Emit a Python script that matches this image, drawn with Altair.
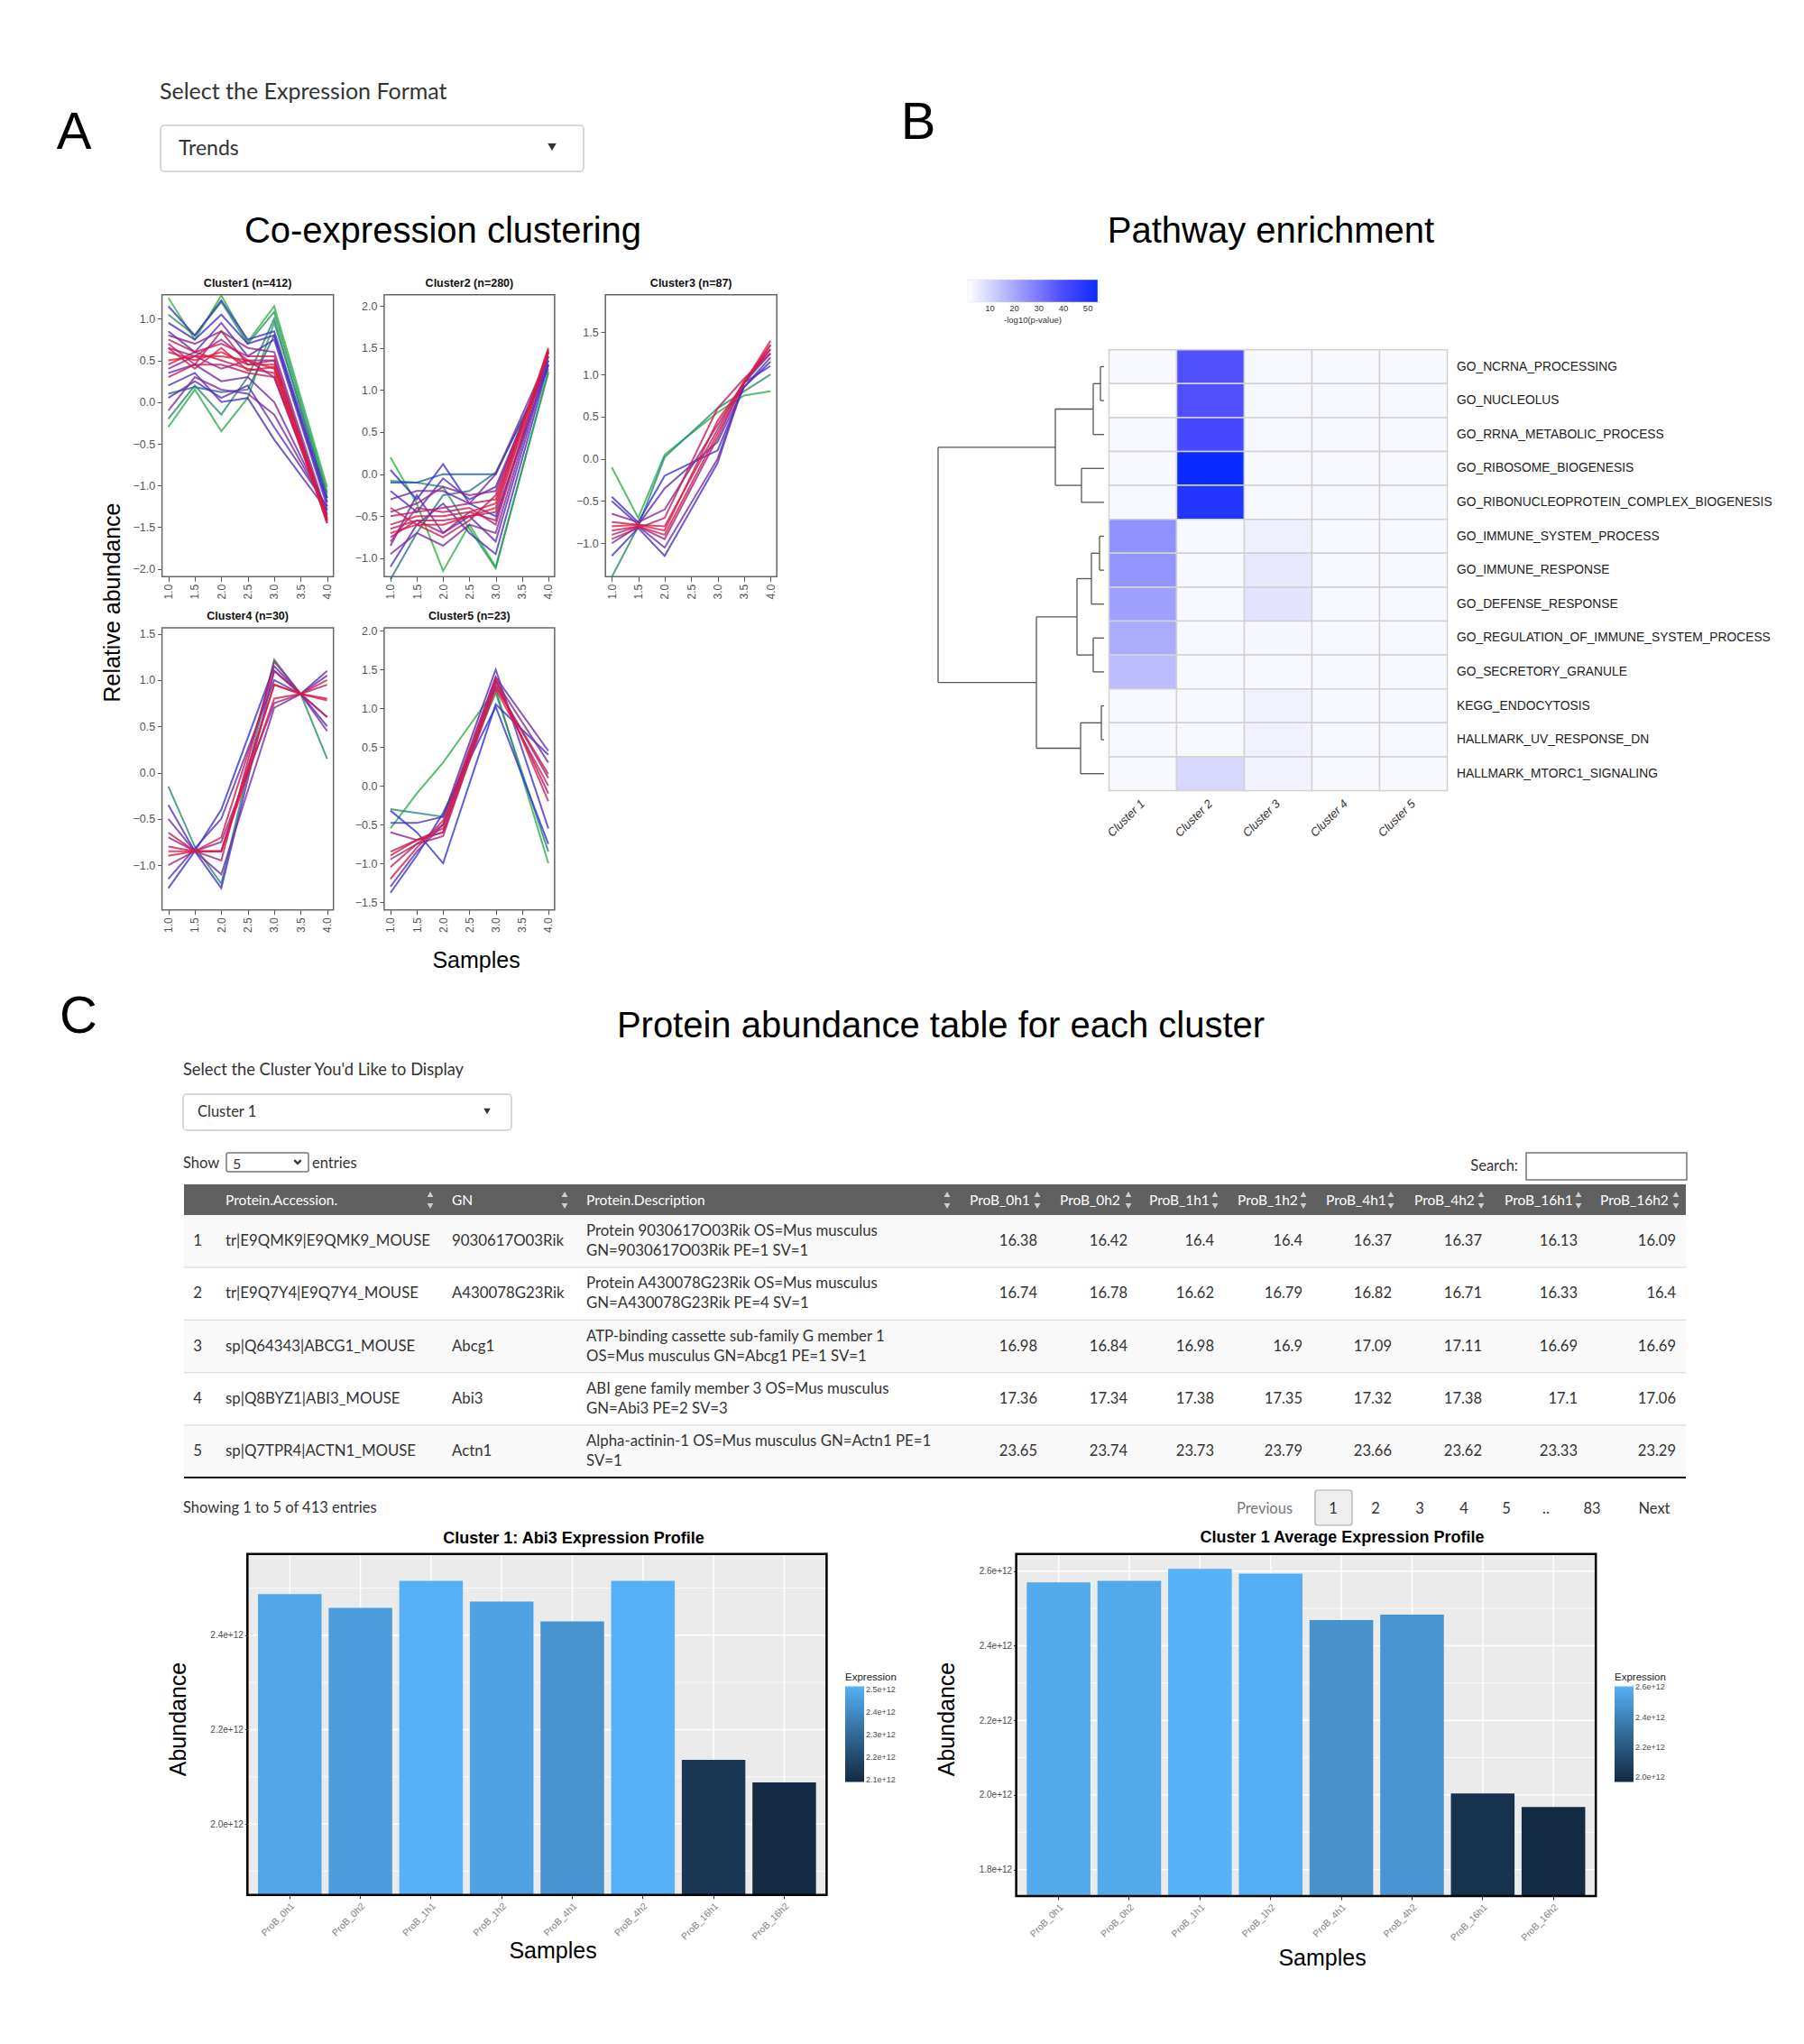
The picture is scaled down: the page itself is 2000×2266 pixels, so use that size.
import altair as alt
import pandas as pd

M = 8                 # page margin (canvas origin is at page (8, 8))
W, H = 1984, 2250     # canvas size
PF = "Liberation Sans"
UF = "Lato"

# ============================ DATA ============================
# ---- Panel A: co-expression clusters (trend lines) ----
cluster_titles = ["Cluster1 (n=412)", "Cluster2 (n=280)", "Cluster3 (n=87)",
                  "Cluster4 (n=30)", "Cluster5 (n=23)"]
cluster_xpos = [
    [1.0, 1.5, 2.0, 2.5, 3.0, 4.0],
    [1.0, 1.5, 2.0, 2.5, 3.0, 4.0],
    [1.0, 1.5, 2.0, 3.0, 3.5, 4.0],
    [1.0, 1.5, 2.0, 3.0, 3.5, 4.0],
    [1.0, 1.5, 2.0, 3.0, 4.0],
]
# each row: membership, then relative abundance at the x positions above
cluster1_lines = [
    [0.12, 1.25, 0.75, 1.28, 0.72, 1.15, -1.02],
    [0.18, 1.05, 0.80, 1.20, 0.70, 1.08, -1.08],
    [0.14, -0.30, 0.15, -0.35, 0.05, 0.95, -1.10],
    [0.20, -0.20, 0.20, -0.15, 0.30, 1.00, -1.15],
    [0.26, 0.10, 0.18, 0.12, 0.15, 0.80, -1.20],
    [0.42, 1.15, 0.80, 1.22, 0.75, 0.85, -1.15],
    [0.45, 0.95, 0.75, 1.05, 0.70, 0.80, -1.20],
    [0.47, 0.20, 0.35, 0.00, 0.05, -0.45, -1.30],
    [0.50, 0.05, 0.25, 0.05, 0.20, -0.30, -1.25],
    [0.51, 0.85, 0.60, 0.95, 0.55, 0.75, -1.25],
    [0.55, 0.35, 0.45, 0.25, 0.30, 0.00, -1.30],
    [0.60, -0.10, 0.30, 0.15, 0.10, -0.15, -1.28],
    [0.64, 0.80, 0.70, 0.85, 0.65, 0.60, -1.35],
    [0.66, 0.40, 0.55, 0.40, 0.50, 0.30, -1.35],
    [0.70, 0.65, 0.55, 0.75, 0.50, 0.50, -1.38],
    [0.74, 0.70, 0.45, 0.85, 0.45, 0.50, -1.40],
    [0.78, 0.30, 0.45, 0.45, 0.35, 0.30, -1.40],
    [0.80, 0.75, 0.60, 0.70, 0.55, 0.55, -1.42],
    [0.84, 0.45, 0.60, 0.50, 0.40, 0.35, -1.42],
    [0.86, 0.60, 0.50, 0.60, 0.45, 0.45, -1.45],
    [0.88, 0.65, 0.40, 0.65, 0.38, 0.42, -1.44],
    [0.90, 0.50, 0.55, 0.55, 0.50, 0.40, -1.45],
]
cluster2_lines = [
    [0.12, 0.20, -0.35, -1.15, -0.60, -1.10, 1.20],
    [0.18, -0.08, -0.10, -0.15, -0.65, -1.12, 1.22],
    [0.24, -1.25, -0.70, -0.25, -0.20, 0.02, 1.25],
    [0.30, -0.10, -0.10, 0.00, 0.00, 0.00, 1.30],
    [0.42, 0.05, -0.30, 0.12, -0.35, -0.50, 1.30],
    [0.45, -1.10, -0.60, -0.35, -0.70, -0.95, 1.30],
    [0.48, -0.20, -0.45, -0.05, -0.30, -0.15, 1.35],
    [0.52, -0.85, -0.25, -0.70, -0.50, -0.80, 1.35],
    [0.56, -0.30, -0.20, -0.20, -0.35, 0.00, 1.40],
    [0.60, -0.95, -0.70, -0.85, -0.60, -0.70, 1.40],
    [0.64, -0.45, -0.35, -0.15, -0.25, -0.20, 1.40],
    [0.70, -0.75, -0.55, -0.70, -0.45, -0.55, 1.45],
    [0.74, -0.50, -0.45, -0.40, -0.35, -0.30, 1.45],
    [0.78, -0.80, -0.40, -0.45, -0.40, -0.60, 1.45],
    [0.80, -0.65, -0.55, -0.55, -0.50, -0.45, 1.47],
    [0.84, -0.40, -0.60, -0.75, -0.55, -0.25, 1.45],
    [0.86, -0.60, -0.50, -0.50, -0.45, -0.35, 1.48],
    [0.90, -0.70, -0.60, -0.60, -0.50, -0.40, 1.50],
]
cluster3_lines = [
    [0.14, -0.10, -0.70, 0.05, 0.55, 0.75, 0.80],
    [0.20, -1.40, -0.80, 0.02, 0.60, 0.80, 1.00],
    [0.40, -0.45, -0.75, -0.20, 0.10, 0.85, 1.15],
    [0.45, -1.15, -0.82, -1.15, -0.05, 0.90, 1.10],
    [0.50, -0.50, -0.78, -0.35, 0.20, 0.85, 1.20],
    [0.58, -1.00, -0.80, -1.05, 0.00, 0.90, 1.25],
    [0.64, -0.65, -0.75, -0.60, 0.40, 0.90, 1.30],
    [0.72, -0.90, -0.80, -0.95, 0.25, 0.90, 1.35],
    [0.78, -0.95, -0.82, -0.70, 0.60, 0.95, 1.25],
    [0.80, -0.75, -0.78, -0.80, 0.35, 0.92, 1.30],
    [0.85, -0.85, -0.80, -0.90, 0.30, 0.90, 1.40],
    [0.90, -0.80, -0.78, -0.85, 0.45, 0.90, 1.35],
]
cluster4_lines = [
    [0.20, -0.15, -0.80, -1.20, 1.22, 0.85, 0.15],
    [0.40, -1.25, -0.85, -0.40, 1.15, 0.85, 0.50],
    [0.45, -0.35, -0.85, -1.25, 1.10, 0.85, 0.60],
    [0.50, -1.15, -0.82, -0.50, 1.00, 0.85, 1.10],
    [0.58, -0.50, -0.85, -1.10, 0.70, 0.85, 1.05],
    [0.64, -0.70, -0.85, -0.75, 0.75, 0.85, 0.45],
    [0.72, -1.00, -0.85, -0.95, 1.20, 0.85, 0.95],
    [0.80, -0.80, -0.85, -0.85, 0.95, 0.85, 0.80],
    [0.84, -0.65, -0.85, -0.70, 1.10, 0.85, 0.60],
    [0.86, -0.90, -0.85, -0.85, 0.80, 0.85, 1.00],
    [0.90, -0.85, -0.85, -0.85, 0.95, 0.85, 0.78],
]
cluster5_lines = [
    [0.14, -0.55, -0.10, 0.30, 1.25, -1.00],
    [0.20, -0.30, -0.35, -0.40, 1.20, -0.85],
    [0.38, -1.38, -0.90, -0.35, 1.02, -0.75],
    [0.40, -0.32, -0.60, -1.00, 1.05, 0.40],
    [0.45, -0.48, -0.48, -0.40, 1.50, -0.55],
    [0.55, -1.30, -0.85, -0.50, 1.40, 0.45],
    [0.60, -0.60, -0.70, -0.60, 1.35, 0.30],
    [0.70, -0.95, -0.75, -0.65, 1.30, 0.10],
    [0.75, -0.85, -0.70, -0.55, 1.35, -0.10],
    [0.80, -1.05, -0.75, -0.50, 1.28, 0.15],
    [0.85, -1.20, -0.80, -0.45, 1.40, -0.20],
    [0.90, -0.90, -0.70, -0.60, 1.25, 0.00],
]
cluster_lines = [cluster1_lines, cluster2_lines, cluster3_lines, cluster4_lines, cluster5_lines]
cluster_yticks = [
    [-2.0, -1.5, -1.0, -0.5, 0.0, 0.5, 1.0],
    [-1.0, -0.5, 0.0, 0.5, 1.0, 1.5, 2.0],
    [-1.0, -0.5, 0.0, 0.5, 1.0, 1.5],
    [-1.0, -0.5, 0.0, 0.5, 1.0, 1.5],
    [-1.5, -1.0, -0.5, 0.0, 0.5, 1.0, 1.5, 2.0],
]
cluster_ylims = [(-2.093, 1.288), (-1.218, 2.132), (-1.396, 1.945), (-1.484, 1.565), (-1.601, 2.038)]
cluster_xticks = [1.0, 1.5, 2.0, 2.5, 3.0, 3.5, 4.0]
cluster_xlim = (0.88, 4.12)

# ---- Panel B: pathway enrichment (-log10 p-value) ----
pathways = ["GO_NCRNA_PROCESSING", "GO_NUCLEOLUS", "GO_RRNA_METABOLIC_PROCESS",
            "GO_RIBOSOME_BIOGENESIS", "GO_RIBONUCLEOPROTEIN_COMPLEX_BIOGENESIS",
            "GO_IMMUNE_SYSTEM_PROCESS", "GO_IMMUNE_RESPONSE", "GO_DEFENSE_RESPONSE",
            "GO_REGULATION_OF_IMMUNE_SYSTEM_PROCESS", "GO_SECRETORY_GRANULE",
            "KEGG_ENDOCYTOSIS", "HALLMARK_UV_RESPONSE_DN", "HALLMARK_MTORC1_SIGNALING"]
heat_clusters = ["Cluster 1", "Cluster 2", "Cluster 3", "Cluster 4", "Cluster 5"]
enrichment = [
    [2.5, 39.0, 2.5, 2.5, 2.5],
    [1.0, 39.0, 2.5, 2.5, 2.5],
    [2.5, 41.0, 2.5, 2.5, 2.5],
    [2.5, 54.0, 2.5, 2.5, 2.5],
    [2.5, 49.0, 2.5, 2.5, 2.5],
    [25.0, 2.5, 4.5, 2.5, 2.5],
    [24.0, 2.5, 6.0, 2.5, 2.5],
    [21.5, 2.5, 7.0, 2.5, 2.5],
    [19.0, 2.5, 3.0, 2.5, 2.5],
    [15.5, 2.5, 2.5, 2.5, 2.5],
    [2.5, 2.5, 4.0, 2.5, 2.5],
    [2.5, 2.5, 4.0, 2.5, 2.5],
    [2.5, 9.5, 3.5, 2.5, 2.5],
]
# (child a, child b, merge height); leaves are row indices, new nodes numbered from 13
dendro_merges = [(0, 1, 0.4), (13, 2, 1.2), (3, 4, 2.5), (14, 15, 5.4),
                 (5, 6, 0.5), (17, 7, 1.4), (8, 9, 1.2), (18, 19, 3.0),
                 (10, 11, 0.3), (21, 12, 2.6), (20, 22, 7.5), (16, 23, 18.4)]
heat_legend_ticks = [10, 20, 30, 40, 50]

# ---- Panel C: table ----
accessions = ["tr|E9QMK9|E9QMK9_MOUSE", "tr|E9Q7Y4|E9Q7Y4_MOUSE", "sp|Q64343|ABCG1_MOUSE",
              "sp|Q8BYZ1|ABI3_MOUSE", "sp|Q7TPR4|ACTN1_MOUSE"]
gene_names = ["9030617O03Rik", "A430078G23Rik", "Abcg1", "Abi3", "Actn1"]
descriptions = [
    ("Protein 9030617O03Rik OS=Mus musculus", "GN=9030617O03Rik PE=1 SV=1"),
    ("Protein A430078G23Rik OS=Mus musculus", "GN=A430078G23Rik PE=4 SV=1"),
    ("ATP-binding cassette sub-family G member 1", "OS=Mus musculus GN=Abcg1 PE=1 SV=1"),
    ("ABI gene family member 3 OS=Mus musculus", "GN=Abi3 PE=2 SV=3"),
    ("Alpha-actinin-1 OS=Mus musculus GN=Actn1 PE=1", "SV=1"),
]
samples = ["ProB_0h1", "ProB_0h2", "ProB_1h1", "ProB_1h2", "ProB_4h1", "ProB_4h2", "ProB_16h1", "ProB_16h2"]
table_values = [
    [16.38, 16.42, 16.4, 16.4, 16.37, 16.37, 16.13, 16.09],
    [16.74, 16.78, 16.62, 16.79, 16.82, 16.71, 16.33, 16.4],
    [16.98, 16.84, 16.98, 16.9, 17.09, 17.11, 16.69, 16.69],
    [17.36, 17.34, 17.38, 17.35, 17.32, 17.38, 17.1, 17.06],
    [23.65, 23.74, 23.73, 23.79, 23.66, 23.62, 23.33, 23.29],
]
total_entries = 413
pages = ["1", "2", "3", "4", "5", "..", "83"]

# ---- Panel C: bar charts ----
abi3_expr = [2.487e12, 2.458e12, 2.515e12, 2.471e12, 2.429e12, 2.515e12, 2.136e12, 2.088e12]
avg_expr = [2.570e12, 2.574e12, 2.606e12, 2.593e12, 2.469e12, 2.483e12, 2.004e12, 1.968e12]
abi3_major = [2.0e12, 2.2e12, 2.4e12]
abi3_minor = [1.9e12, 2.1e12, 2.3e12, 2.5e12]
avg_major = [1.8e12, 2.0e12, 2.2e12, 2.4e12, 2.6e12]
avg_minor = [1.9e12, 2.1e12, 2.3e12, 2.5e12]
abi3_legend = [2.1e12, 2.2e12, 2.3e12, 2.4e12, 2.5e12]
avg_legend = [2.0e12, 2.2e12, 2.4e12, 2.6e12]
abi3_ylim = [1.850e12, 2.572e12]
avg_ylim = [1.729e12, 2.646e12]


# ============================ HELPERS ============================
def T(items, size, color="#333333", font=PF, weight="normal", align="left",
      baseline="middle", angle=0, style="normal"):
    df = pd.DataFrame(items, columns=["x", "y", "t"])
    df["x"] = df["x"] - M
    df["y"] = df["y"] - M
    return alt.Chart(df).mark_text(
        fontSize=size, color=color, font=font, fontWeight=weight, align=align,
        baseline=baseline, angle=angle, fontStyle=style
    ).encode(
        x=alt.X("x:Q", scale=None, axis=None),
        y=alt.Y("y:Q", scale=None, axis=None),
        text="t:N",
    )


def R(items, fill="#ffffff", stroke="", sw=1.0, radius=0, fill_opacity=1.0):
    df = pd.DataFrame(items, columns=["x", "y", "x2", "y2"]) - M
    kw = dict(fill=fill, fillOpacity=fill_opacity, cornerRadius=radius)
    if stroke:
        kw["stroke"] = stroke
        kw["strokeWidth"] = sw
    return alt.Chart(df).mark_rect(**kw).encode(
        x=alt.X("x:Q", scale=None, axis=None), x2="x2:Q",
        y=alt.Y("y:Q", scale=None, axis=None), y2="y2:Q",
    )


def P(items, shape, size, color, filled=True, sw=1.0):
    df = pd.DataFrame(items, columns=["x", "y"]) - M
    return alt.Chart(df).mark_point(
        shape=shape, size=size, filled=filled, color=color, strokeWidth=sw, opacity=1
    ).encode(
        x=alt.X("x:Q", scale=None, axis=None),
        y=alt.Y("y:Q", scale=None, axis=None),
    )


layers = []

# ============================ TITLES ============================
layers.append(T([(82, 148, "A"), (1018, 137, "B"), (87, 1128, "C")], 58, color="#000000",
                align="center"))
layers.append(T([(491, 257, "Co-expression clustering"), (1409, 257, "Pathway enrichment"),
                 (1043, 1138, "Protein abundance table for each cluster")],
                40, color="#000000", align="center"))

# ============================ PANEL A ============================
layers.append(T([(177, 102, "Select the Expression Format")], 25, font=UF))
layers.append(R([(178, 139, 647, 190)], fill="#ffffff", stroke="#cccccc", sw=1.5, radius=4))
layers.append(T([(198, 165, "Trends")], 23, font=UF))
layers.append(P([(612, 163)], "triangle-down", 90, "#333333"))

cl_boxes = [(179.6, 326.7, 369.7, 639.3), (425.9, 326.7, 614.9, 639.3),
            (671.2, 326.7, 861.2, 639.3), (179.6, 696.0, 369.7, 1008.7),
            (425.9, 696.0, 614.9, 1008.7)]
memb_scale = alt.Scale(domain=[0.1, 0.35, 0.6, 0.9],
                       range=["#2fc22f", "#2436dc", "#7f2a9f", "#e3193b"], interpolate="rgb")

for k in range(5):
    x0, y0, x1, y1 = cl_boxes[k]
    lines = sorted(cluster_lines[k], key=lambda l: l[0])
    recs = []
    for i, ln in enumerate(lines):
        for xv, yv in zip(cluster_xpos[k], ln[1:]):
            recs.append({"id": f"L{i:02d}", "m": ln[0], "x": xv, "y": yv})
    df = pd.DataFrame(recs)
    xsc = alt.Scale(domain=list(cluster_xlim), range=[x0 - M, x1 - M], nice=False, zero=False)
    ysc = alt.Scale(domain=list(cluster_ylims[k]), range=[y1 - M, y0 - M], nice=False, zero=False)
    xaxis = alt.Axis(orient="bottom", offset=(y1 - M) - H, values=cluster_xticks, format=".1f",
                     labelAngle=270, domain=False, grid=False, tickSize=5, tickColor="#555555",
                     labelColor="#555555", labelFont=PF, labelFontSize=12, labelPadding=3,
                     title="", labelFlush=False, labelOverlap=False)
    yaxis = alt.Axis(orient="left", offset=-(x0 - M), values=cluster_yticks[k], format=".1f",
                     domain=False, grid=False, tickSize=5, tickColor="#555555",
                     labelColor="#555555", labelFont=PF, labelFontSize=12.5, labelPadding=3,
                     title="", labelFlush=False, labelOverlap=False)
    layers.append(R([(x0, y0, x1, y1)], fill="#ffffff"))
    layers.append(alt.Chart(df).mark_line(strokeWidth=2.0, opacity=0.8).encode(
        x=alt.X("x:Q", scale=xsc, axis=xaxis),
        y=alt.Y("y:Q", scale=ysc, axis=yaxis),
        detail="id:N",
        order="x:Q",
        color=alt.Color("m:Q", scale=memb_scale, legend=None),
    ))
    layers.append(R([(x0, y0, x1, y1)], fill="#ffffff", fill_opacity=0, stroke="#666666", sw=1.5))
    layers.append(T([((x0 + x1) / 2, y0 - 13, cluster_titles[k])], 12.5, color="#111111",
                    weight="bold", align="center"))

layers.append(T([(125, 668, "Relative abundance")], 25, color="#000000", align="center", angle=270))
layers.append(T([(528, 1065, "Samples")], 25, color="#000000", align="center"))

# ============================ PANEL B ============================
hx0, hy0, hx1, hy1 = 1229.5, 387.7, 1604.5, 876.5
hxs = alt.Scale(domain=[0, len(heat_clusters)], range=[hx0 - M, hx1 - M], nice=False, zero=False)
hys = alt.Scale(domain=[0, len(pathways)], range=[hy0 - M, hy1 - M], nice=False, zero=False)

cells = []
for r, row in enumerate(enrichment):
    for c, v in enumerate(row):
        cells.append({"c": c, "c2": c + 1, "r": r, "r2": r + 1, "v": v,
                      "pathway": pathways[r], "cluster": heat_clusters[c]})
cells_df = pd.DataFrame(cells)
heat_color = alt.Scale(domain=[1, 40, 54], range=["#ffffff", "#4b4bff", "#0a2bff"], interpolate="rgb")
layers.append(alt.Chart(cells_df).mark_rect(stroke="#d2d2d2", strokeWidth=1.5).encode(
    x=alt.X("c:Q", scale=hxs, axis=None), x2="c2:Q",
    y=alt.Y("r:Q", scale=hys, axis=None), y2="r2:Q",
    color=alt.Color("v:Q", scale=heat_color, legend=alt.Legend(
        orient="none", legendX=1073 - M, legendY=310 - M, direction="horizontal",
        gradientLength=144, gradientThickness=25, values=heat_legend_ticks,
        title="-log10(p-value)", titleOrient="bottom", titleAnchor="middle",
        titleFont=PF, titleFontSize=9.5, titleFontWeight="normal", titleColor="#333333",
        titlePadding=3, labelFont=PF, labelFontSize=9.5, labelColor="#333333",
        gradientStrokeColor="#dddddd", gradientStrokeWidth=0.5)),
))

# dendrogram
pos = {i: i + 0.5 for i in range(len(pathways))}
hgt = {i: 0.0 for i in range(len(pathways))}
segs = []
nid = len(pathways)
for a, b, h in dendro_merges:
    segs.append((hgt[a], pos[a], h, pos[a]))
    segs.append((hgt[b], pos[b], h, pos[b]))
    segs.append((h, pos[a], h, pos[b]))
    pos[nid] = (pos[a] + pos[b]) / 2
    hgt[nid] = h
    nid += 1
seg_df = pd.DataFrame(segs, columns=["d1", "r1", "d2", "r2"])
dsc = alt.Scale(domain=[0, max(h for _, _, h in dendro_merges)], range=[1224 - M, 1040 - M],
                nice=False, zero=False)
layers.append(alt.Chart(seg_df).mark_rule(color="#555555", strokeWidth=1.3).encode(
    x=alt.X("d1:Q", scale=dsc, axis=None), x2="d2:Q",
    y=alt.Y("r1:Q", scale=hys, axis=None), y2="r2:Q",
))

rowlab_df = pd.DataFrame({"r": [i + 0.5 for i in range(len(pathways))], "t": pathways})
layers.append(alt.Chart(rowlab_df).mark_text(
    align="left", baseline="middle", font=PF, fontSize=13.8, color="#222222"
).encode(x=alt.value(1615 - M), y=alt.Y("r:Q", scale=hys, axis=None), text="t:N"))

collab_df = pd.DataFrame({"c": [i + 0.5 for i in range(len(heat_clusters))], "t": heat_clusters})
layers.append(alt.Chart(collab_df).mark_text(
    align="right", baseline="middle", font=PF, fontSize=13, fontStyle="italic",
    color="#333333", angle=315
).encode(x=alt.X("c:Q", scale=hxs, axis=None), y=alt.value(889 - M), text="t:N"))

# ============================ PANEL C : controls ============================
layers.append(T([(203, 1187, "Select the Cluster You'd Like to Display")], 18.3, font=UF))
layers.append(R([(203, 1213, 567, 1253)], fill="#ffffff", stroke="#cccccc", sw=1.5, radius=4))
layers.append(T([(219, 1233, "Cluster 1")], 16.5, font=UF))
layers.append(P([(540, 1232)], "triangle-down", 55, "#333333"))

layers.append(T([(203, 1290, "Show"), (346, 1290, "entries")], 16.5, font=UF))
layers.append(R([(251, 1278, 342, 1299)], fill="#ffffff", stroke="#767676", sw=1.5, radius=2))
layers.append(T([(258, 1291, "5")], 16, font=UF))
layers.append(P([(330, 1288)], "M -1 -0.5 L 0 0.5 L 1 -0.5", 55, "#333333", filled=False, sw=2.2))

layers.append(T([(1683, 1293, "Search:")], 16.5, font=UF, align="right"))
layers.append(R([(1692, 1278, 1870, 1308)], fill="#ffffff", stroke="#767676", sw=1.5))

# ============================ PANEL C : table ============================
TX0, TX1 = 204, 1869
layers.append(R([(TX0, 1313, TX1, 1347)], fill="#606060"))
hdr_x = [250, 501, 650, 1075, 1175, 1274, 1372, 1470, 1568, 1668, 1774]
hdr_names = ["Protein.Accession.", "GN", "Protein.Description"] + samples
layers.append(T([(x, 1331, n) for x, n in zip(hdr_x, hdr_names)], 15.5, font=UF, color="#ffffff"))
arrow_x = [477, 626, 1050, 1150, 1251, 1347, 1445, 1542, 1642, 1750, 1858]
layers.append(P([(x, 1324) for x in arrow_x], "triangle-up", 45, "#cfcfcf"))
layers.append(P([(x, 1337) for x in arrow_x], "triangle-down", 45, "#cfcfcf"))

row_scale = alt.Scale(domain=[0, 5], range=[1347 - M, 1638 - M], nice=False, zero=False)
rows_df = pd.DataFrame({"r": list(range(5)), "r2": list(range(1, 6)),
                        "stripe": [i % 2 == 0 for i in range(5)]})
layers.append(alt.Chart(rows_df).mark_rect().encode(
    x=alt.value(TX0 - M), x2=alt.value(TX1 - M),
    y=alt.Y("r:Q", scale=row_scale, axis=None), y2="r2:Q",
    color=alt.condition("datum.stripe", alt.value("#f9f9f9"), alt.value("#ffffff")),
))
layers.append(alt.Chart(pd.DataFrame({"r": [1, 2, 3, 4]})).mark_rule(color="#dddddd", strokeWidth=1.2).encode(
    y=alt.Y("r:Q", scale=row_scale, axis=None), x=alt.value(TX0 - M), x2=alt.value(TX1 - M)))
layers.append(alt.Chart(pd.DataFrame({"r": [5]})).mark_rule(color="#111111", strokeWidth=1.8).encode(
    y=alt.Y("r:Q", scale=row_scale, axis=None), x=alt.value(TX0 - M), x2=alt.value(TX1 - M)))

tbl = pd.DataFrame({
    "r": [i + 0.5 for i in range(5)],
    "n": [str(i + 1) for i in range(5)],
    "acc": accessions, "gn": gene_names,
    "d1": [d[0] for d in descriptions], "d2": [d[1] for d in descriptions],
})


def col_text(field, xpx, align="left", dy=0):
    return alt.Chart(tbl).mark_text(
        align=align, baseline="middle", font=UF, fontSize=16.8, color="#333333", dy=dy
    ).encode(x=alt.value(xpx - M), y=alt.Y("r:Q", scale=row_scale, axis=None), text=f"{field}:N")


layers.append(col_text("n", 219, align="center"))
layers.append(col_text("acc", 250))
layers.append(col_text("gn", 501))
layers.append(col_text("d1", 650, dy=-11))
layers.append(col_text("d2", 650, dy=11))

num_right = [1150, 1250, 1346, 1444, 1543, 1643, 1749, 1858]
nums = []
for i, row in enumerate(table_values):
    for j, v in enumerate(row):
        nums.append({"r": i + 0.5, "cx": num_right[j] - M, "t": f"{v:g}"})
layers.append(alt.Chart(pd.DataFrame(nums)).mark_text(
    align="right", baseline="middle", font=UF, fontSize=16.5, color="#333333"
).encode(x=alt.X("cx:Q", scale=None, axis=None), y=alt.Y("r:Q", scale=row_scale, axis=None), text="t:N"))

layers.append(T([(203, 1672, f"Showing 1 to 5 of {total_entries} entries")], 16.5, font=UF))
layers.append(R([(1458, 1652, 1499, 1691)], fill="#eeeeee", stroke="#aaaaaa", sw=1.2, radius=3))
page_x = [1478, 1525, 1574, 1623, 1670, 1714, 1765]
layers.append(T([(x, 1673, p) for x, p in zip(page_x, pages)] + [(1834, 1673, "Next")],
                16.5, font=UF, align="center"))
layers.append(T([(1402, 1673, "Previous")], 16.5, font=UF, align="center", color="#777777"))


# ============================ PANEL C : bar charts ============================
def bar_panel(vals, frame, ylim, majors, minors, leg_vals, leg_x, title, title_xy, ylab_xy, xlab_xy):
    fx0, fy0, fx1, fy1 = frame
    df = pd.DataFrame({"s": samples, "v": vals})
    xsc = alt.Scale(domain=samples, range=[fx0 - M, fx1 - M], paddingInner=0.1, paddingOuter=0.15)
    ysc = alt.Scale(domain=ylim, range=[fy1 - M, fy0 - M], nice=False, zero=False, clamp=True)
    out = [R([(fx0, fy0, fx1, fy1)], fill="#ebebeb")]
    out.append(alt.Chart(pd.DataFrame({"v": minors})).mark_rule(color="#ffffff", strokeWidth=0.7).encode(
        y=alt.Y("v:Q", scale=ysc, axis=None), x=alt.value(fx0 - M), x2=alt.value(fx1 - M)))
    out.append(alt.Chart(pd.DataFrame({"v": majors})).mark_rule(color="#ffffff", strokeWidth=1.4).encode(
        y=alt.Y("v:Q", scale=ysc, axis=None), x=alt.value(fx0 - M), x2=alt.value(fx1 - M)))
    out.append(alt.Chart(df).mark_rule(color="#ffffff", strokeWidth=1.4).encode(
        x=alt.X("s:N", scale=xsc, sort=samples, axis=None),
        y=alt.value(fy0 - M), y2=alt.value(fy1 - M)))
    color_scale = alt.Scale(domain=[min(vals), max(vals)], range=["#132B43", "#56B1F7"], interpolate="lab")
    out.append(alt.Chart(df).mark_bar().encode(
        x=alt.X("s:N", scale=xsc, sort=samples, axis=alt.Axis(
            orient="bottom", offset=(fy1 - M) - H, labelAngle=315, labelAlign="right",
            labelBaseline="top", labelFont=PF, labelFontSize=10.5, labelColor="#7f7f7f",
            tickSize=4, tickColor="#333333", domain=False, grid=False, title="", labelPadding=3)),
        y=alt.Y("v:Q", scale=ysc, axis=alt.Axis(
            orient="left", offset=-(fx0 - M), values=majors, labelExpr="format(datum.value, '.1e')",
            labelFont=PF, labelFontSize=10, labelColor="#4d4d4d", tickSize=3, tickColor="#333333",
            domain=False, grid=False, title="", labelPadding=2, labelFlush=False)),
        y2=alt.datum(0),
        color=alt.Color("v:Q", scale=color_scale, legend=alt.Legend(
            orient="none", legendX=leg_x - M, legendY=1854 - M, direction="vertical",
            gradientLength=106, gradientThickness=21, values=leg_vals,
            labelExpr="format(datum.value, '.1e')", title="Expression",
            titleFont=PF, titleFontSize=11.5, titleFontWeight="normal", titleColor="#222222",
            titlePadding=4, labelFont=PF, labelFontSize=9, labelColor="#4d4d4d",
            gradientStrokeWidth=0)),
    ))
    out.append(R([(fx0, fy0, fx1, fy1)], fill="#ffffff", fill_opacity=0, stroke="#000000", sw=2.5))
    out.append(T([(title_xy[0], title_xy[1], title)], 18, color="#000000", weight="bold", align="center"))
    out.append(T([(ylab_xy[0], ylab_xy[1], "Abundance")], 25, color="#000000", align="center", angle=270))
    out.append(T([(xlab_xy[0], xlab_xy[1], "Samples")], 25, color="#000000", align="center"))
    return out


layers.extend(bar_panel(abi3_expr, (274.3, 1722.7, 916.4, 2100.7), abi3_ylim, abi3_major, abi3_minor,
                        abi3_legend, 937, "Cluster 1: Abi3 Expression Profile",
                        (636, 1706), (198, 1906), (613, 2163)))
layers.extend(bar_panel(avg_expr, (1126.6, 1722.7, 1769.2, 2102.0), avg_ylim, avg_major, avg_minor,
                        avg_legend, 1790, "Cluster 1 Average Expression Profile",
                        (1488, 1705), (1050, 1906), (1466, 2171)))

# ============================ ASSEMBLE ============================
chart = alt.layer(*layers).resolve_scale(
    x="independent", y="independent", color="independent"
).properties(
    width=W, height=H, autosize=alt.AutoSizeParams(type="none"), padding=0, background="#ffffff"
).configure_view(stroke="transparent")

chart.save("out.html", embed_options={"renderer": "svg", "actions": False})
